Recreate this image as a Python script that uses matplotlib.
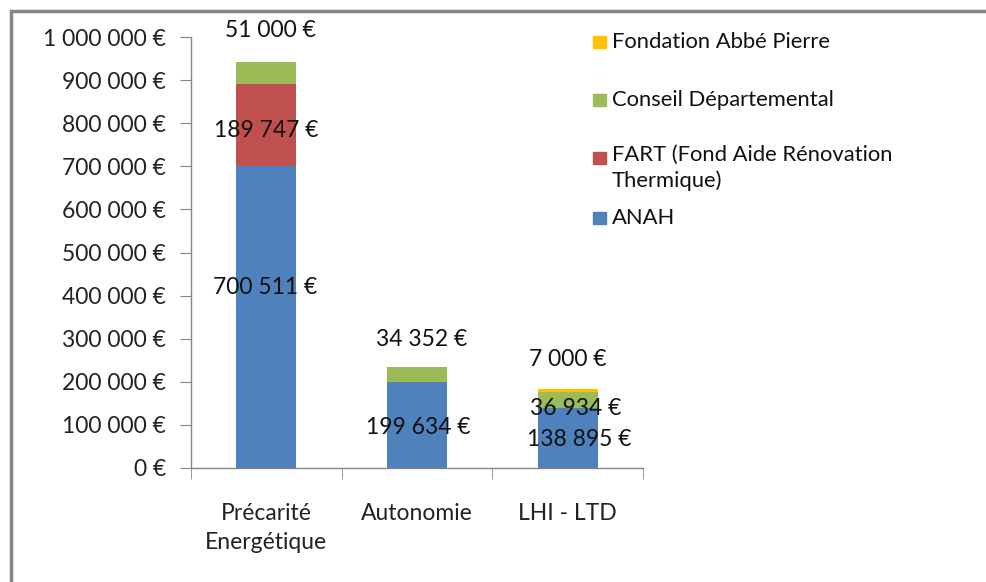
import matplotlib
matplotlib.use('Agg')
import matplotlib.pyplot as plt
from matplotlib.patches import Rectangle
from matplotlib.ticker import FuncFormatter, MultipleLocator
import numpy as np

plt.rcParams['font.family'] = ['Lato', 'DejaVu Sans']

categories = ['Précarité\nEnergétique', 'Autonomie', 'LHI - LTD']
series = ['ANAH', 'FART (Fond Aide Rénovation\nThermique)', 'Conseil Départemental', 'Fondation Abbé Pierre']
anah = [700511, 199634, 138895]
fart = [189747, 0, 0]
conseil = [51000, 34352, 36934]
fondation = [0, 0, 7000]
colors = ['#4F81BD', '#C0504D', '#9BBB59', '#FFC000']

# labels as placed by hand in the original (category index, value, label height)
labels = [
    (0, 51000, 1016000), (0, 189747, 784000), (0, 700511, 418000),
    (1, 34352, 297000), (1, 199634, 93000),
    (2, 7000, 251000), (2, 36934, 139000), (2, 138895, 65000),
]
label_dx = [0.03, 0.0, -0.01, 0.03, 0.01, 0.0, 0.05, 0.08]
FS = 16.5
LEG_FS = 15.8


def euro(v, pos=None):
    s = f'{int(v):,}'.replace(',', ' ')
    return f'{s} €'


fig = plt.figure(figsize=(9.87, 5.82), dpi=100)
ax = fig.add_axes([191 / 987, 1 - 468 / 582, (643 - 191) / 987, (468 - 37) / 582])

x = np.arange(len(categories))
bottom = np.zeros(len(categories))
for vals, col in zip([anah, fart, conseil, fondation], colors):
    ax.bar(x, vals, width=0.4, bottom=bottom, color=col, zorder=2)
    bottom += np.array(vals)

for (i, v, ly), dx in zip(labels, label_dx):
    ax.text(i + dx, ly, euro(v), ha='center', va='center', fontsize=FS,
            color='#111111', clip_on=False, zorder=3)

ax.set_xlim(-0.5, 2.5)
ax.set_ylim(0, 1000000)
ax.yaxis.set_major_locator(MultipleLocator(100000))
ax.yaxis.set_major_formatter(FuncFormatter(euro))
ax.set_xticks(x)
ax.set_xticklabels(categories, linespacing=1.5)
ax.set_xticks([-0.5, 0.5, 1.5, 2.5], minor=True)
ax.tick_params(axis='x', which='major', length=0, pad=25, labelsize=FS, colors='#222222')
ax.tick_params(axis='x', which='minor', length=8, color='#868686')
ax.tick_params(axis='y', length=8, color='#868686', labelsize=FS, labelcolor='#222222', pad=10)
for s in ['top', 'right']:
    ax.spines[s].set_visible(False)
for s in ['left', 'bottom']:
    ax.spines[s].set_color('#868686')
    ax.spines[s].set_linewidth(1.0)

# legend drawn by hand to keep the original spacing
leg_y = [42, 100, 158, 218]
leg_names = list(reversed(series))
leg_cols = list(reversed(colors))
for yy, name, col in zip(leg_y, leg_names, leg_cols):
    fig.patches.append(Rectangle((593 / 987, 1 - (yy + 6) / 582), 13 / 987, 12 / 582,
                                 transform=fig.transFigure, color=col))
    if '\n' in name:
        fig.text(612 / 987, 1 - (yy - 13) / 582, name, ha='left', va='top',
                 fontsize=LEG_FS, color='#111111', linespacing=1.35)
    else:
        fig.text(612 / 987, 1 - yy / 582, name, ha='left', va='center',
                 fontsize=LEG_FS, color='#111111')

# outer frame of the chart area
fig.patches.append(Rectangle((11 / 987, -0.1), 2, 1 - 11 / 582 + 0.1, transform=fig.transFigure,
                             fill=False, edgecolor='#868686', linewidth=2.5))

fig.savefig('out.png', dpi=100)
